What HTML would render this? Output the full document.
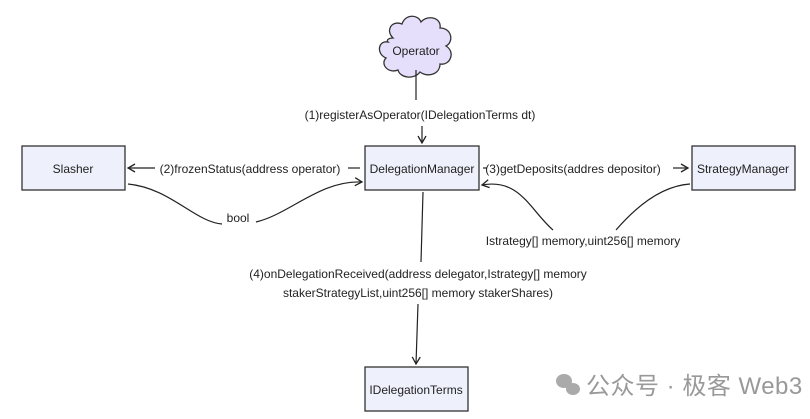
<!DOCTYPE html>
<html><head><meta charset="utf-8"><style>
body{margin:0;background:#fff;}
svg{display:block;font-family:"Liberation Sans","Noto Sans CJK SC",sans-serif;}
</style></head><body>
<svg width="810" height="419" viewBox="0 0 810 419" xmlns="http://www.w3.org/2000/svg">
<defs><marker id="a" markerWidth="10" markerHeight="10" refX="8" refY="5" orient="auto" markerUnits="userSpaceOnUse"><path d="M1,1 L8,5 L1,9" fill="none" stroke="#222" stroke-width="1.3"/></marker></defs>
<g fill="#eef0fb" stroke="#333" stroke-width="1.3">
<rect x="22" y="146" width="103" height="44"/>
<rect x="365" y="146" width="114" height="44"/>
<rect x="692" y="146" width="103" height="44"/>
<rect x="365" y="367" width="103" height="44"/>
<path d="M393,38 C385,30 392,20 402,24 C405,14 418,14 421,22 C428,14 442,18 440,28 C452,28 454,42 446,46 C456,52 450,66 440,64 C440,74 428,78 420,72 C414,80 400,78 398,70 C388,74 380,64 386,58 C376,54 378,40 388,42 C386,40 389,38 393,38 Z" fill="#e6dffb"/>
</g>
<g font-size="12" fill="#222" text-anchor="middle">
<text x="416" y="55">Operator</text>
<text x="73" y="173">Slasher</text>
<text x="422" y="173">DelegationManager</text>
<text x="743" y="173">StrategyManager</text>
<text x="416" y="394">IDelegationTerms</text>
<text x="420" y="119">(1)registerAsOperator(IDelegationTerms dt)</text>
<text x="250" y="173">(2)frozenStatus(address operator)</text>
<text x="573" y="173">(3)getDeposits(addres depositor)</text>
<text x="238" y="222">bool</text>
<text x="583" y="245">Istrategy[] memory,uint256[] memory</text>
<text x="418" y="278">(4)onDelegationReceived(address delegator,Istrategy[] memory</text>
<text x="418" y="297">stakerStrategyList,uint256[] memory stakerShares)</text>
</g>
<g stroke="#222" stroke-width="1.2" fill="none">
<line x1="416" y1="70" x2="416" y2="100"/>
<line x1="422" y1="126" x2="422" y2="143" marker-end="url(#a)"/>
<line x1="155" y1="168" x2="128" y2="168" marker-end="url(#a)"/>
<line x1="348" y1="168" x2="360" y2="168"/>
<line x1="483" y1="168" x2="487" y2="168"/>
<line x1="673" y1="168" x2="688" y2="168" marker-end="url(#a)"/>
<path d="M128,184 C170,188 195,222 222,224"/>
<path d="M256,222 C290,214 320,180 362,182" marker-end="url(#a)"/>
<path d="M553,230 C530,210 520,178 482,185" marker-end="url(#a)"/>
<path d="M616,230 C635,208 660,186 690,184"/>
<line x1="423" y1="192" x2="421" y2="262"/>
<line x1="418" y1="304" x2="416" y2="364" marker-end="url(#a)"/>
</g>
<text x="586" y="394" font-size="24" fill="#999" letter-spacing="0.5" font-family="Liberation Sans,Noto Sans CJK SC,sans-serif">公众号 · 极客 Web3</text>
<g fill="#aaa"><ellipse cx="564" cy="381" rx="8" ry="7"/><ellipse cx="573" cy="389" rx="7" ry="6"/></g>
</svg>
</body></html>
